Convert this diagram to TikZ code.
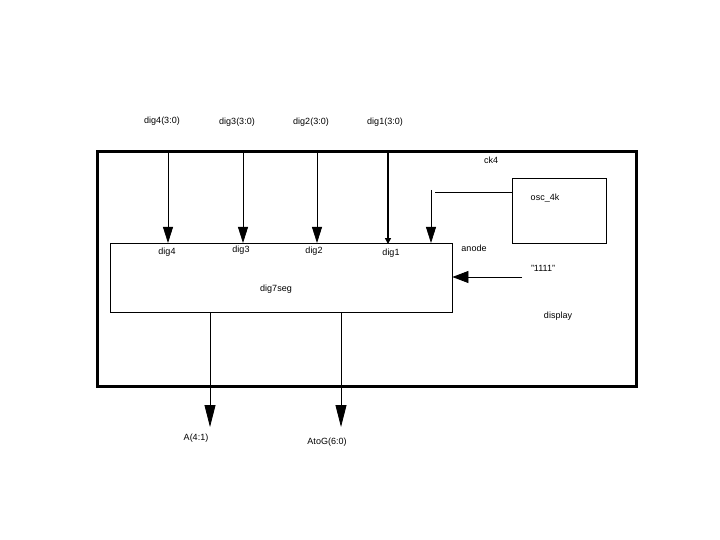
\documentclass[tikz,border=0pt]{standalone}
\usepackage{fontspec}
\setmainfont{Liberation Sans}
\usetikzlibrary{arrows.meta, positioning}

\begin{document}
\begin{tikzpicture}[
  x=1pt, y=-1pt,
  lbl/.style={font=\fontsize{9}{10}\selectfont, inner sep=0pt},
  box/.style={draw, line width=0.8pt, inner sep=0pt},
  sig/.style={-{Triangle[length=16pt, width=10pt]}, line width=0.8pt},
  outp/.style={-{Triangle[length=22pt, width=11pt]}, line width=0.8pt}
]
  \useasboundingbox (0,0) rectangle (720,540);

  % Outer block
  \node[draw, line width=3pt, inner sep=0pt, minimum width=539pt,
    minimum height=234pt] (display) at (366.5,269) {};
  \node[lbl] (displaylbl) at (558,316) {display};
  \node[lbl] (ck4) at (491,160) {ck4};

  % Inner blocks
  \node[box, minimum width=342pt, minimum height=69pt] (dig7seg)
    at (281,277.5) {};
  \node[lbl] (dig7seglbl) at (276,289) {dig7seg};
  \node[box, minimum width=94pt, minimum height=65pt] (osc) at (559,210.5) {};
  \node[lbl] (osclbl) at (545,198) {osc\_4k};

  % Inputs
  \node[lbl] (in4) at (162,121) {dig4(3:0)};
  \node[lbl] (in3) at (237,122) {dig3(3:0)};
  \node[lbl] (in2) at (311,122) {dig2(3:0)};
  \node[lbl] (in1) at (385,122) {dig1(3:0)};

  \coordinate (p4) at (168,243);
  \coordinate (p3) at (243,243);
  \coordinate (p2) at (317,243);
  \coordinate (p1) at (388,244);
  \draw[sig] (p4 |- display.north) -- (p4);
  \draw[sig] (p3 |- display.north) -- (p3);
  \draw[sig] (p2 |- display.north) -- (p2);
  \draw[-{Triangle[length=6pt, width=6pt]}, line width=2pt]
    (p1 |- display.north) -- (p1);

  \node[lbl] (pin4) at (167,252) {dig4};
  \node[lbl] (pin3) at (241,250) {dig3};
  \node[lbl] (pin2) at (314,251) {dig2};
  \node[lbl] (pin1) at (391,253) {dig1};

  % Clock into anode
  \coordinate (pa) at (431,243);
  \coordinate (ca) at (435,192);
  \draw (osc.west |- ca) -- (ca);
  \draw[sig] (pa |- 0,190) -- (pa);
  \node[lbl] (anode) at (474,248) {anode};

  % Constant input
  \coordinate (k) at (522,277);
  \draw[-{Triangle[length=16pt, width=12pt]}, line width=0.8pt]
    (k) -- (dig7seg.east |- k);
  \node[lbl] (konst) at (543,268) {\symbol{34}1111\symbol{34}};

  % Outputs
  \coordinate (oa) at (210,427);
  \coordinate (og) at (341,427);
  \draw[outp] (oa |- dig7seg.south) -- (oa);
  \draw[outp] (og |- dig7seg.south) -- (og);
  \node[lbl] (outa) at (196,438) {A(4:1)};
  \node[lbl] (outg) at (327,442) {AtoG(6:0)};
\end{tikzpicture}
\end{document}
